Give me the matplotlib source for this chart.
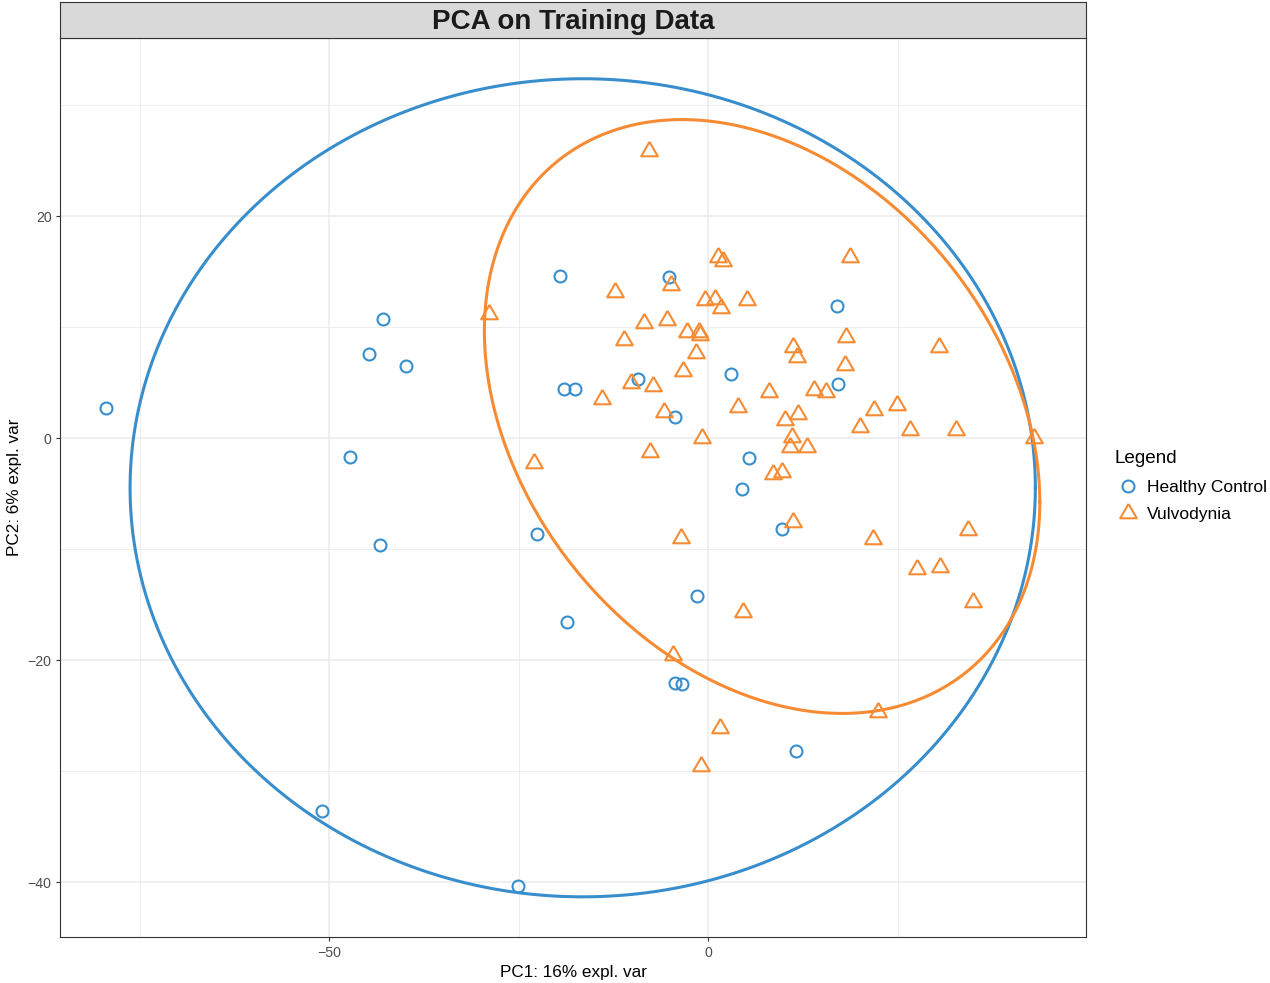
import numpy as np
import matplotlib
matplotlib.use("Agg")
import matplotlib.pyplot as plt
from matplotlib.lines import Line2D
from matplotlib.markers import MarkerStyle

plt.rcParams['font.family'] = ['Liberation Sans', 'DejaVu Sans']

# PCA scores on the first two components, per group
healthy_pc1 = [-79.4, -44.7, -42.9, -39.8, -47.2, -43.3, -50.9, -25.1, -19.53, -5.19,
               -19.0, -17.5, -9.23, -4.35, 3.08, 5.45, 4.53, -22.52, -1.41, -18.6,
               -4.4, -3.43, 9.76, 11.6, 17.02, 17.15]
healthy_pc2 = [2.7, 7.6, 10.7, 6.5, -1.7, -9.6, -33.6, -40.4, 14.62, 14.53,
               4.41, 4.41, 5.34, 1.92, 5.79, -1.76, -4.59, -8.65, -14.23, -16.55,
               -22.04, -22.19, -8.23, -28.2, 11.86, 4.86]

vulvo_pc1 = [-7.78, -28.85, -12.27, -4.88, 1.36, 1.93, -0.40, 0.92, 1.67, 5.19,
             -8.49, -5.41, -11.04, -2.81, -1.23, -1.06, -1.63, -3.34, -10.16, -7.30,
             -14.03, -5.85, 3.91, -0.75, -7.65, -22.96, 18.73, 18.21, 11.21, 11.74,
             18.03, 30.52, 8.05, 14.03, 15.57, 21.86, 24.98, 20.01, 26.65, 32.76,
             43.05, 11.83, 10.20, 11.13, 10.86, 13.06, 8.62, 9.72, 11.26, 21.82,
             34.35, 27.53, 30.61, 35.00, 22.38, -3.61, 4.66, -4.57, 1.63, -0.92]
vulvo_pc2 = [25.86, 11.17, 13.12, 13.78, 16.33, 15.97, 12.43, 12.49, 11.68, 12.43,
             10.39, 10.63, 8.83, 9.55, 9.58, 9.28, 7.69, 6.04, 4.93, 4.68,
             3.48, 2.31, 2.82, -0.03, -1.30, -2.28, 16.28, 9.13, 8.17, 7.27,
             6.61, 8.17, 4.11, 4.32, 4.17, 2.52, 3.00, 1.02, 0.72, 0.72,
             0.03, 2.16, 1.62, 0.12, -0.78, -0.78, -3.24, -3.03, -7.54, -9.13,
             -8.29, -11.80, -11.59, -14.75, -24.65, -9.04, -15.65, -19.55, -26.16, -29.55]

group_labels = ["Healthy Control", "Vulvodynia"]
group_colors = ["#388ECC", "#F68B33"]

title = "PCA on Training Data"
x_title = "PC1: 16% expl. var"
y_title = "PC2: 6% expl. var"

x_major = [-50, 0]
x_minor = [-75, -25, 25]
y_major = [-40, -20, 0, 20]
y_minor = [-30, -10, 10, 30]
x_limits = (-85.5, 49.87)
y_limits = (-44.95, 36.04)


def confidence_ellipse(x, y, level=0.95, n=300):
    """Normal-theory confidence ellipse from the sample mean and covariance."""
    pts = np.column_stack([x, y])
    centre = pts.mean(axis=0)
    cov = np.cov(pts, rowvar=False)
    t = np.sqrt(-2.0 * np.log(1.0 - level))  # sqrt of chi-square quantile, 2 df
    chol = np.linalg.cholesky(cov)
    a = np.linspace(0, 2 * np.pi, n)
    circle = np.vstack([np.cos(a), np.sin(a)])
    e = centre[:, None] + t * chol @ circle
    return e[0], e[1]


# open triangle centred on its centroid
tri = MarkerStyle([(0, 1), (-0.866, -0.5), (0.866, -0.5), (0, 1)], joinstyle='miter')
marker_styles = [dict(marker='o', ms=8.6), dict(marker=tri, ms=13.8)]

W, H = 1270, 983
fig = plt.figure(figsize=(W / 100, H / 100), dpi=100)
fig.patch.set_facecolor('white')

ax = fig.add_axes([60 / W, 1 - 937 / H, 1026 / W, 899 / H])
strip = fig.add_axes([60 / W, 1 - 38 / H, 1026 / W, 36 / H])

# panel
ax.set_xlim(*x_limits)
ax.set_ylim(*y_limits)
ax.set_xticks(x_major)
ax.set_xticks(x_minor, minor=True)
ax.set_yticks(y_major)
ax.set_yticks(y_minor, minor=True)
ax.grid(True, which='major', color='#EBEBEB', lw=1.1, zorder=0)
ax.grid(True, which='minor', color='#EBEBEB', lw=0.6, zorder=0)
ax.set_axisbelow(True)
ax.tick_params(which='major', length=3, width=0.8, color='#333333',
               labelcolor='#4D4D4D', labelsize=10.2, pad=3.2)
ax.tick_params(which='minor', length=0)
for s in ax.spines.values():
    s.set_color('#333333')
    s.set_linewidth(0.8)

groups = [(healthy_pc1, healthy_pc2), (vulvo_pc1, vulvo_pc2)]
handles = []
for (gx, gy), lab, col, ms in zip(groups, group_labels, group_colors, marker_styles):
    ax.plot(gx, gy, ls='none', mfc='none', mec=col, mew=1.5, zorder=3, **ms)
    ex, ey = confidence_ellipse(gx, gy)
    ax.plot(ex, ey, color=col, lw=2.2, zorder=2)
    handles.append(Line2D([], [], ls='none', mfc='none', mec=col, mew=1.5,
                          label=lab, **ms))

ax.set_xlabel(x_title, fontsize=12.3, color='black', va='center')
ax.xaxis.set_label_coords(0.5, (937 - 972) / 899)
ax.set_ylabel(y_title, fontsize=12.3, color='black', va='center')
ax.yaxis.set_label_coords((15 - 60) / 1026, 0.5)

# facet strip
strip.set_facecolor('#D9D9D9')
strip.set_xticks([])
strip.set_yticks([])
for s in strip.spines.values():
    s.set_color('#333333')
    s.set_linewidth(0.8)
strip.text(0.5, 0.45, title, ha='center', va='center', fontsize=20,
           fontweight='bold', color='#1A1A1A', transform=strip.transAxes)

leg = fig.legend(handles=handles, title='Legend', loc='upper left',
                 bbox_to_anchor=(1115 / W, 1 - 450 / H), frameon=False,
                 fontsize=12.5, title_fontsize=13.6, alignment='left',
                 handlelength=1.5, handletextpad=0.35, labelspacing=0.72,
                 borderpad=0, borderaxespad=0)

fig.savefig('out.png', dpi=100)
